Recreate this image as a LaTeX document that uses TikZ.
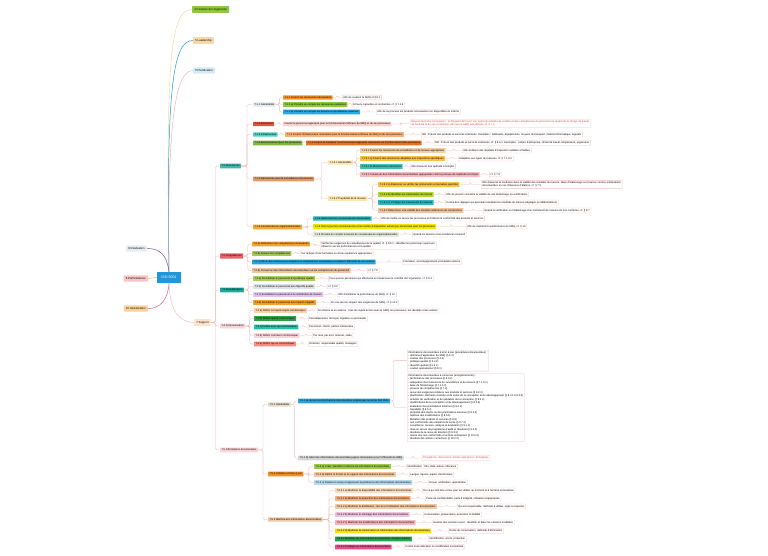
\documentclass[tikz,border=0pt]{standalone}
\usepackage{fontspec}
\setmainfont{Liberation Sans}
\usetikzlibrary{calc}
\definecolor{cfour}{HTML}{8DC63F}
\definecolor{cfive}{HTML}{F8D7A8}
\definecolor{csix}{HTML}{D5EBF8}
\definecolor{ceight}{HTML}{E6ECF5}
\definecolor{cnine}{HTML}{F7C5C5}
\definecolor{cten}{HTML}{F9D29A}
\definecolor{croot}{HTML}{2196D9}
\definecolor{csup}{HTML}{FDE3CC}
\definecolor{notebd}{HTML}{F4C2C2}
\definecolor{linkc}{HTML}{F4B7B7}
\definecolor{lavbd}{HTML}{D9C6EC}
\definecolor{redtxt}{HTML}{E53935}
\definecolor{lfour}{HTML}{F7D38C}
\definecolor{lfive}{HTML}{1B9FC6}
\definecolor{lsix}{HTML}{F4A0B5}
\definecolor{leight}{HTML}{6B3FA0}
\definecolor{lnine}{HTML}{F5A623}
\definecolor{lten}{HTML}{E0457B}
\newcommand\mmc[2]{\draw[mmlink] (#1.east) -- ($(#1.east)!0.5!(#1.east -| #2.west)$) |- (#2.west);}
\begin{document}
\begin{tikzpicture}[x=1pt,y=-1pt,
  hf/.code={\definecolor{hfc}{HTML}{#1}\pgfkeysalso{fill=hfc}},
  mm/.style={anchor=west, inner xsep=1.3pt, inner ysep=1.2pt, font=\fontsize{2.6}{3.1}\selectfont, rounded corners=0.4pt, align=left},
  lvlone/.style={mm, inner xsep=2.2pt, inner ysep=2pt, font=\fontsize{2.8}{3.2}\selectfont},
  lvltwo/.style={mm, inner ysep=1.5pt},
  mmnote/.style={mm, draw=notebd, line width=0.3pt, fill=white},
  mmlink/.style={draw=linkc, line width=0.35pt, rounded corners=1.5pt}]
\useasboundingbox[fill=white] (0,0) rectangle (768,556);

% ---- first level ----
\node[lvlone, fill=cfour] (n4) at (192,9.5) {4 Contexte de l'organisme};
\node[lvlone, fill=cfive] (n5) at (193,40.5) {5 Leadership};
\node[lvlone, fill=csix] (n6) at (193,70.5) {6 Planification};
\node[lvlone, anchor=east, fill=ceight] (n8) at (147,248.5) {8 Réalisation};
\node[lvlone, anchor=east, fill=cnine] (n9) at (148,278.5) {9 Performances};
\node[lvlone, anchor=east, fill=cten] (n10) at (148,308.5) {10 Amélioration};
\node[lvlone, anchor=center, fill=croot, text=white, minimum width=24pt, minimum height=11pt, font=\fontsize{3.6}{4}\selectfont] (root) at (169,277.5) {ISO 9001};
\node[lvlone, fill=csup] (sup) at (194,322.5) {7 Support};

\draw[draw=lfour, line width=0.4pt] (root.north) .. controls (166,60) and (170,9.5) .. (n4.west);
\draw[draw=lfive, line width=0.5pt] (root.north) .. controls (166,80) and (174,40.5) .. (n5.west);
\draw[draw=lsix, line width=0.4pt] (root.north) .. controls (167,110) and (177,70.5) .. (n6.west);
\draw[draw=leight, line width=0.45pt] (root.north) .. controls (167,255) and (160,248.5) .. (n8.east);
\draw[draw=lnine, line width=0.4pt] (root.west) -- (n9.east);
\draw[draw=lten, line width=0.45pt] (root.south) .. controls (168,300) and (160,308.5) .. (n10.east);
\draw[draw=linkc, line width=0.45pt] (root.south) .. controls (170,312) and (180,322.5) .. (sup.west);

% ---- 7.x ----
\node[lvltwo, hf=45B5AA] (r71) at (220,166) {7.1 Ressources};
\node[lvltwo, hf=E8646A] (r72) at (220,256) {7.2 Compétences};
\node[lvltwo, hf=1FA99A] (r73) at (220,290) {7.3 Sensibilisation};
\node[lvltwo, hf=F9D4D8] (r74) at (220,326) {7.4 Communication};
\node[lvltwo, hf=F9D4D8] (r75) at (220,450) {7.5 Informations documentées};
\foreach \c in {r71,r72,r73,r74,r75} {\mmc{sup}{\c}}

% ---- 7.1 ----
\node[mm, hf=E2E6EF] (g711) at (253,104.5) {7.1.1 Généralités};
\node[mm, hf=E0553B] (g712) at (253,124) {7.1.2 Personnel};
\node[mm, hf=4FCFC0] (g713) at (253,134.5) {7.1.3 Infrastructure};
\node[mm, hf=80B73C] (g714) at (253,143) {7.1.4 Environnement pour les processus};
\node[mm, hf=E39A6A] (g715) at (253,179) {7.1.5 Ressources pour la surveillance et la mesure};
\node[mm, hf=F5A833] (g716) at (253,227) {7.1.6 Connaissances organisationnelles};
\foreach \c in {g711,g712,g713,g714,g715,g716} {\mmc{r71}{\c}}

\node[mm, hf=F0922E] (a1) at (283,97.5) {7.1.1 Fournir les ressources nécessaires};
\node[mm, hf=8CC63F] (a2) at (283,104.5) {7.1.1 a) Prendre en compte les ressources existantes};
\node[mm, hf=27A9E1] (a3) at (283,112) {7.1.1 b) Prendre en compte les besoins en prestataires externes};
\foreach \c in {a1,a2,a3} {\mmc{g711}{\c}}
\node[mmnote] (a1n) at (342,97.5) {Afin de soutenir le SMQ et § 8.1};
\node[mmnote] (a2n) at (352,104.5) {Et leurs capacités et contraintes, cf. § 7.1.6};
\node[mmnote] (a3n) at (376,112) {Afin de se procurer les produits nécessaires non disponibles en interne};
\mmc{a1}{a1n}\mmc{a2}{a2n}\mmc{a3}{a3n}

\node[mm, hf=F9D3CF] (p1) at (283,124) {Fournir le personnel approprié pour le fonctionnement efficace du SMQ et de ses processus};
\mmc{g712}{p1}
\node[mmnote, text=redtxt] (p1n) at (410,123.5) {Moyens humains nécessaires : le dirigeant doit avoir une approche réaliste du nombre et des compétences du personnel au regard de la charge de travail,\\ de l'activité et de ses contraintes, afin que le SMQ soit efficace, cf. § 7.2};
\mmc{p1}{p1n}

\node[mm, hf=F5B27C] (i1) at (285,134.5) {7.1.3 Fournir l'infrastructure nécessaire pour le fonctionnement efficace du SMQ et de ses processus};
\mmc{g713}{i1}
\node[mmnote] (i1n) at (421,134.5) {NB : Prévoir des produits et services extérieurs. Exemples : bâtiments, équipements, moyens de transport, matériel informatique, logiciels};
\mmc{i1}{i1n}

\node[mm, hf=E8731E] (e1) at (306,143) {7.1.4 Fournir et maintenir l'environnement approprié nécessaire au fonctionnement des processus};
\mmc{g714}{e1}
\node[mmnote] (e1n) at (434,143) {NB : Prévoir des produits et services extérieurs, cf. § 8.4.1. Exemples : culture d'entreprise, climat de travail, température, ergonomie};
\mmc{e1}{e1n}

% 7.1.5
\node[mm, hf=FDE7B0] (s1) at (328,162.5) {7.1.5.1 Généralités};
\node[mm, hf=FDE7B0] (s2) at (328,198.5) {7.1.5.2 Traçabilité de la mesure};
\mmc{g715}{s1}\mmc{g715}{s2}

\node[mm, hf=F3CFA5] (s11) at (360,150.5) {7.1.5.1 Fournir les ressources de surveillance et de mesure appropriées};
\node[mm, hf=F6C342] (s12) at (360,158.5) {7.1.5.1 a) Fournir des ressources adaptées aux inspections spécifiques};
\node[mm, hf=3FBFB0] (s13) at (360,166.5) {7.1.5.1 b) Maintenir les ressources};
\node[mm, hf=F7B8BF] (s14) at (360,174.5) {7.1.5.1 Conserver des informations documentées appropriées comme preuves de l'aptitude à l'emploi};
\foreach \c in {s11,s12,s13,s14} {\mmc{s1}{\c}}
\node[mmnote] (s11n) at (462,150.5) {Afin d'obtenir des résultats d'inspection valables et fiables};
\node[mmnote] (s12n) at (458,158.5) {Adaptées aux types de mesures, cf. § 7.1.5.2};
\node[mmnote] (s13n) at (410,166.5) {Afin d'assurer leur aptitude à l'emploi};
\node[mmnote] (s14n) at (489,174.5) {cf. § 7.5};
\mmc{s11}{s11n}\mmc{s12}{s12n}\mmc{s13}{s13n}\mmc{s14}{s14n}

\node[mm, hf=F7C244] (t1) at (378,184.5) {7.1.5.2 a) Étalonner ou vérifier les instruments à intervalles spécifiés};
\node[mm, hf=B5D334] (t2) at (378,194.5) {7.1.5.2 b) Identifier les instruments de mesure};
\node[mm, hf=2EB5C0] (t3) at (378,202.5) {7.1.5.2 c) Protéger les instruments de mesure};
\node[mm, hf=F1C49E] (t4) at (378,210.5) {7.1.5.2 Déterminer si la validité des résultats antérieurs est compromise};
\foreach \c in {t1,t2,t3,t4} {\mmc{s2}{\c}}
\node[mmnote] (t1n) at (481,184.5) {Afin d'assurer la confiance dans la validité des résultats de mesure. Base d'étalonnage à conserver comme informations\\ documentées en cas d'absence d'étalons, cf. § 7.5};
\node[mmnote] (t2n) at (445,194.5) {Afin de pouvoir connaître la validité de son étalonnage (ou vérification)};
\node[mmnote] (t3n) at (445,202.5) {Contre des réglages qui pourraient invalider les résultats de mesure (réglages ou détériorations)};
\node[mmnote] (t4n) at (483,210.5) {Quand la vérification ou l'étalonnage d'un instrument de mesure est non conforme, cf. § 8.7};
\mmc{t1}{t1n}\mmc{t2}{t2n}\mmc{t3}{t3n}\mmc{t4}{t4n}

% 7.1.6
\node[mm, hf=29B3B0] (k1) at (313,218.5) {7.1.6 Déterminer les connaissances nécessaires};
\node[mm, hf=F2E600] (k2) at (313,226.5) {7.1.6 Tenir à jour les connaissances et les mettre à disposition autant que nécessaire pour les processus};
\node[mm, hf=E4E8D8] (k3) at (313,234.5) {7.1.6 Prendre en compte le besoin de connaissances organisationnelles};
\foreach \c in {k1,k2,k3} {\mmc{g716}{\c}}
\node[mmnote] (k1n) at (380,218.5) {Afin de mettre en œuvre les processus et d'obtenir la conformité des produits et services};
\node[mmnote] (k2n) at (466,226.5) {Afin de maintenir la performance du SMQ, cf. § 10};
\node[mmnote] (k3n) at (412,234.5) {Quand les besoins et les tendances évoluent};
\mmc{k1}{k1n}\mmc{k2}{k2n}\mmc{k3}{k3n}

% ---- 7.2 ----
\node[mm, hf=F5A030] (c1) at (252,244) {7.2 a) Déterminer les compétences nécessaires};
\node[mm, hf=A5C75A] (c2) at (252,253.5) {7.2 b) Assurer les compétences};
\node[mm, hf=2AA3DC] (c3) at (252,262) {7.2 c) Mener des actions pour acquérir les compétences nécessaires et évaluer l'efficacité de ces actions};
\node[mm, hf=F1C49E] (c4) at (252,270.5) {7.2 d) Conserver des informations documentées sur les compétences du personnel};
\foreach \c in {c1,c2,c3,c4} {\mmc{r72}{\c}}
\node[mmnote] (c1n) at (320,245.5) {Vérifier les exigences de compétences de la qualité, cf. § 8.5.1 ; identifier les personnes ayant une\\ influence sur les performances et la qualité};
\node[mmnote] (c2n) at (300,253.5) {Sur la base d'une formation ou d'une expérience appropriées};
\node[mmnote] (c3n) at (402,262) {Formation, accompagnement, prestataire externe};
\node[mmnote] (c4n) at (367,270.5) {cf. § 7.5};
\mmc{c1}{c1n}\mmc{c2}{c2n}\mmc{c3}{c3n}\mmc{c4}{c4n}

% ---- 7.3 ----
\node[mm, hf=A7CF5B] (d1) at (253,278.5) {7.3 a) Sensibiliser le personnel à la politique qualité};
\node[mm, hf=DFE3E0] (d2) at (253,286.5) {7.3 b) Sensibiliser le personnel aux objectifs qualité};
\node[mm, hf=E2C6EA] (d3) at (253,294.5) {7.3 c) Sensibiliser le personnel à la contribution de chacun};
\node[mm, hf=F0A22A] (d4) at (253,302.5) {7.3 d) Sensibiliser le personnel aux impacts négatifs};
\foreach \c in {d1,d2,d3,d4} {\mmc{r73}{\c}}
\node[mmnote, draw=lavbd] (d1n) at (328,278.5) {Pour que les personnes qui effectuent un travail sous le contrôle de l'organisme, cf. § 5.2};
\node[mmnote, draw=lavbd] (d2n) at (327,286.5) {cf. § 6.2};
\node[mmnote, draw=lavbd] (d3n) at (337,294.5) {Afin d'améliorer la performance du SMQ, cf. § 10};
\node[mmnote, draw=lavbd] (d4n) at (330,302.5) {En cas de non-respect des exigences du SMQ, cf. § 10.2};
\mmc{d1}{d1n}\mmc{d2}{d2n}\mmc{d3}{d3n}\mmc{d4}{d4n}

% ---- 7.4 ----
\node[mm, hf=FCD2A6] (m1) at (254,310.5) {7.4 a) Définir sur quels sujets communiquer};
\node[mm, hf=2E9E4A] (m2) at (254,318.5) {7.4 b) Définir quand communiquer};
\node[mm, hf=25C0A6] (m3) at (254,327) {7.4 c) Définir avec qui communiquer};
\node[mm, hf=F9D4D9] (m4) at (254,335.5) {7.4 d) Définir comment communiquer};
\node[mm, hf=F58D7F] (m5) at (254,344) {7.4 e) Définir qui va communiquer};
\foreach \c in {m1,m2,m3,m4,m5} {\mmc{r74}{\c}}
\node[mmnote] (m1n) at (317,310.5) {En interne et en externe : tous les sujets en lien avec le SMQ, les processus, les résultats et les actions};
\node[mmnote] (m2n) at (308,318.5) {Périodiquement, de façon régulière ou ponctuelle};
\node[mmnote] (m3n) at (308,327) {Personnel, clients, parties intéressées};
\node[mmnote] (m4n) at (312,335.5) {Par mail, par écrit, Internet, vidéo};
\node[mmnote] (m5n) at (308,344) {Direction, responsable qualité, managers};
\mmc{m1}{m1n}\mmc{m2}{m2n}\mmc{m3}{m3n}\mmc{m4}{m4n}\mmc{m5}{m5n}

% ---- 7.5 ----
\node[mm, hf=E3DCC8] (u1) at (268,404.5) {7.5.1 Généralités};
\node[mm, hf=EF8F2A] (u2) at (268,474) {7.5.2 Création et mise à jour};
\node[mm, hf=F2C6A0] (u3) at (268,519.5) {7.5.3 Maîtrise des informations documentées};
\foreach \c in {u1,u2,u3} {\mmc{r75}{\c}}

\node[mm, hf=2AA3DC] (x1) at (298,401) {7.5.1 a) Inclure les informations documentées exigées par la norme ISO 9001};
\node[mm, hf=D6D6D6] (x2) at (298,458) {7.5.1 b) Gérer les informations documentées jugées nécessaires pour l'efficacité du SMQ};
\mmc{u1}{x1}\mmc{u1}{x2}
\node[mmnote, anchor=north west] (x1a) at (407,350) {Informations documentées à tenir à jour (procédures documentées) :\\
- domaine d'application du SMQ (§ 4.3)\\
- soutien des processus (§ 4.4)\\
- politique qualité (§ 5.2.2)\\[0.6pt]
- objectifs qualité (§ 6.2.1)\\
- soutien opérationnel (§ 8.1)};
\node[mmnote, anchor=north west] (x1b) at (407,373.5) {Informations documentées à conserver (enregistrements) :\\
- performance des processus (§ 4.4.2)\\[0.8pt]
- adéquation des ressources de surveillance et de mesure (§ 7.1.5.1)\\
- base de l'étalonnage (§ 7.1.5.2)\\
- preuves de compétences (§ 7.2)\\
- revue des exigences relatives aux produits et services (§ 8.2.3)\\[0.8pt]
- planification, éléments d'entrée et de sortie de la conception et du développement (§ 8.3.2 à 8.3.5)\\
- activités de vérification et de validation de la conception (§ 8.3.4)\\
- modifications de la conception et du développement (§ 8.3.6)\\[0.8pt]
- évaluation des prestataires externes (§ 8.4.1)\\
- traçabilité (§ 8.5.2)\\
- propriété des clients ou des prestataires externes (§ 8.5.3)\\
- maîtrise des modifications (§ 8.5.6)\\[0.8pt]
- libération des produits et services (§ 8.6)\\
- non-conformités des éléments de sortie (§ 8.7.2)\\
- surveillance, mesure, analyse et évaluation (§ 9.1.1)\\[0.8pt]
- mise en œuvre du programme d'audit et résultats (§ 9.2.2)\\
- résultats de la revue de direction (§ 9.3.3)\\
- nature des non-conformités et actions entreprises (§ 10.2.2)\\
- résultats des actions correctives (§ 10.2.2)};
\draw[mmlink] (x1.east) -- ++(3,0) |- (x1a.west);
\draw[mmlink] (x1.east) -- ++(3,0) |- (x1b.west);
\node[mmnote, text=redtxt] (x2n) at (422,458) {Procédures, instructions, modes opératoires, formulaires};
\mmc{x2}{x2n}

\node[mm, hf=9BC94C] (w1) at (314,466.5) {7.5.2 a) Créer, identifier et décrire les informations documentées};
\node[mm, hf=F2C8A0] (w2) at (314,474.5) {7.5.2 b) Définir le format et le support des informations documentées};
\node[mm, hf=B7D7EA] (w3) at (314,482.5) {7.5.2 c) Passer en revue et approuver la pertinence des informations documentées};
\foreach \c in {w1,w2,w3} {\mmc{u2}{\c}}
\node[mmnote] (w1n) at (406,466.5) {Identification : titre, date, auteur, référence};
\node[mmnote] (w2n) at (409,474.5) {Langue, figures, papier, électronique};
\node[mmnote] (w3n) at (428,482.5) {Revue, vérification, approbation};
\mmc{w1}{w1n}\mmc{w2}{w2n}\mmc{w3}{w3n}

\node[mm, hf=F6DCC0] (v1) at (335,490.5) {7.5.3.1 a) Maîtriser la disponibilité des informations documentées};
\node[mm, hf=F6B07E] (v2) at (335,498.5) {7.5.3.1 b) Maîtriser la protection des informations documentées};
\node[mm, hf=F1C9A5] (v3) at (335,506.5) {7.5.3.2 a) Maîtriser la distribution, l'accès et l'utilisation des informations documentées};
\node[mm, hf=EEC4DC] (v4) at (335,514.5) {7.5.3.2 b) Maîtriser le stockage des informations documentées};
\node[mm, hf=F7B3BD] (v5) at (335,522.5) {7.5.3.2 c) Maîtriser les modifications des informations documentées};
\node[mm, hf=F7E017] (v6) at (335,531) {7.5.3.2 d) Maîtriser la conservation et l'élimination des informations documentées};
\node[mm, hf=26A04A] (v7) at (335,539) {7.5.3.2 Maîtriser les informations documentées d'origine externe};
\node[mm, hf=E84C8A] (v8) at (335,547) {7.5.3.2 Protéger les informations documentées};
\foreach \c in {v1,v2,v3,v4,v5,v6,v7,v8} {\mmc{u3}{\c}}
\node[mmnote] (v1n) at (422,490.5) {De ce qui doit être connu pour les utiliser au moment et à l'endroit nécessaires};
\node[mmnote] (v2n) at (425,498.5) {Perte de confidentialité, perte d'intégrité, utilisation inappropriée};
\node[mmnote] (v3n) at (457,506.5) {Qui est responsable, méthode à utiliser, règle à respecter};
\node[mmnote] (v4n) at (423,514.5) {Conservation, préservation, protection et lisibilité};
\node[mmnote] (v5n) at (432,522.5) {Gestion des versions à jour : identifier et dater les versions modifiées};
\node[mmnote] (v6n) at (448,531) {Durée de conservation, méthode d'élimination};
\node[mmnote] (v7n) at (428,539) {Identification, accès, protection};
\node[mmnote] (v8n) at (404,547) {Contre toute altération ou modification involontaire};
\foreach \c in {v1,v2,v3,v4,v5,v6,v7,v8} {\mmc{\c}{\c n}}
\end{tikzpicture}
\end{document}
